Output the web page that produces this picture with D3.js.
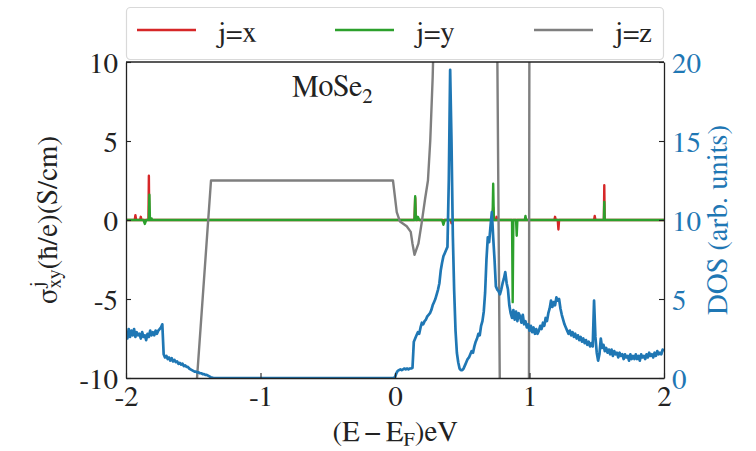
<!DOCTYPE html>
<html>
<head>
<meta charset="utf-8">
<script src="https://cdn.jsdelivr.net/npm/d3@7"></script>
<style>
  html, body { margin: 0; padding: 0; background: #fff; }
  svg { display: block; }
</style>
</head>
<body>
<svg id="chart" width="756" height="451"></svg>
<script>
// Energy axis ticks (eV) and left / right tick values
const energyTicks = [-2, -1, 0, 1, 2];
const sigmaTicks = [-10, -5, 0, 5, 10];
const dosTicks = [0, 5, 10, 15, 20];

// Legend entries
const seriesNames = ["j=x", "j=y", "j=z"];
const seriesColors = ["#d62728", "#2ca02c", "#7f7f7f"];

// sigma^x_xy : energy (eV) / value (S/cm)
const sigmaXEnergy = [-2, -1.935, -1.93, -1.925, -1.895, -1.89, -1.885, -1.833, -1.83, -1.827,
  0.145, 0.15, 0.155, 0.355, 0.36, 0.365, 0.415, 0.42, 0.425, 0.725, 0.73, 0.735, 0.75, 0.755, 0.76,
  1.185, 1.19, 1.195, 1.21, 1.215, 1.22, 1.48, 1.485, 1.49, 1.553, 1.556, 1.559, 2];
const sigmaXValue = [0, 0, 0.3, 0, 0, 0.2, 0, 0, 2.8, 0,
  0, 1.4, 0, 0, -0.2, 0, 0, -0.2, 0, 0, 0.8, 0, 0, 0.2, 0,
  0, 0.2, 0, 0, -0.6, 0, 0, 0.25, 0, 0, 2.2, 0, 0];

// sigma^y_xy
const sigmaYEnergy = [-2, -1.87, -1.86, -1.85, -1.83, -1.826, -1.822, -1.815, -1.81, -1.805,
  0.145, 0.15, 0.155, 0.165, 0.17, 0.18, 0.35, 0.36, 0.37, 0.725, 0.73, 0.735,
  0.87, 0.875, 0.88, 0.9, 0.905, 0.91, 0.965, 0.97, 0.975, 1.553, 1.556, 1.559, 2];
const sigmaYValue = [0, 0, -0.25, 0, 0, 1.6, 0, 0, 0.1, 0,
  0, 1.5, 0, 0, 0.2, 0, 0, -0.3, 0, 0, 2.3, 0,
  0, -5.2, 0, 0, -1.0, 0, 0, 0.25, 0, 0, 1.15, 0, 0];

// sigma^z_xy
const sigmaZEnergy = [-2, -1.555, -1.368, -0.015, 0.013, 0.037, 0.087, 0.117, 0.13, 0.145,
  0.174, 0.198, 0.223, 0.245, 0.262, 0.28, 0.295, 0.31, 0.74, 0.755, 0.785, 0.995, 1.0, 2];
const sigmaZValue = [-20, -20, 2.5, 2.5, 0.5, -0.1, -0.4, -0.75, -1.5, -2.2,
  -1.5, -0.2, 1.3, 2.5, 5.0, 9.0, 14, 20, 20, 17, -17, -17, 17, 17];

// Density of states on a uniform energy grid starting at dosStart with spacing dosStep
const dosStart = -2;
const dosStep = 0.01;
const dosValues = [
  2.9,2.5,3.1,2.6,3.0,2.7,3.1,2.6,2.9,2.7,
  2.8,2.5,2.9,2.6,2.7,2.4,2.8,2.6,3.0,2.7,
  2.9,2.7,3.0,2.8,3.0,3.1,3.2,3.4,1.5,1.3,
  1.4,1.2,1.3,1.1,1.25,1.05,1.15,1.0,1.05,0.9,
  0.95,0.85,0.9,0.75,0.8,0.7,0.7,0.6,0.55,0.5,
  0.45,0.4,0.4,0.35,0.35,0.3,0.3,0.25,0.25,0.2,
  0.2,0.15,0.1,0.05,0.02,0,0,0,0,0,
  0,0,0,0,0,0,0,0,0,0,
  0,0,0,0,0,0,0,0,0,0,
  0,0,0,0,0,0,0,0,0,0,
  0,0,0,0,0,0,0,0,0,0,
  0,0,0,0,0,0,0,0,0,0,
  0,0,0,0,0,0,0,0,0,0,
  0,0,0,0,0,0,0,0,0,0,
  0,0,0,0,0,0,0,0,0,0,
  0,0,0,0,0,0,0,0,0,0,
  0,0,0,0,0,0,0,0,0,0,
  0,0,0,0,0,0,0,0,0,0,
  0,0,0,0,0,0,0,0,0,0,
  0,0,0,0,0,0,0,0,0,0,
  0.05,0.3,0.45,0.5,0.55,0.5,0.55,0.6,0.55,0.6,
  0.55,0.6,0.6,0.65,2.3,2.5,2.7,2.9,2.8,3.2,
  3.5,3.4,3.6,3.7,3.9,4.0,4.1,4.3,4.6,4.8,
  5.0,5.3,5.6,6.0,6.8,7.3,7.7,7.9,8.1,8.3,
  12.5,19.5,15.0,9.0,5.5,3.0,1.6,1.0,0.6,0.5,
  0.5,0.6,0.8,1.0,1.2,1.3,1.5,1.7,1.6,2.0,
  2.3,2.5,2.8,2.7,3.3,3.6,4.2,5.4,7.5,8.9,
  8.6,9.6,10.5,8.9,7.5,5.8,5.6,5.5,5.3,5.6,
  6.0,6.3,6.7,6.0,5.6,4.6,4.1,3.8,4.3,3.7,
  4.2,3.6,4.1,3.9,3.5,4.0,3.4,3.6,3.2,3.4,
  3.0,3.3,2.9,3.2,2.8,3.1,2.8,3.0,3.3,3.1,
  3.5,3.3,3.8,3.6,4.1,4.4,4.9,4.5,4.8,4.6,
  5.1,4.9,5.0,4.4,4.0,3.7,3.4,3.2,3.0,2.8,
  3.0,2.7,2.9,2.6,2.8,2.5,2.7,2.4,2.6,2.3,
  2.5,2.2,2.4,2.1,2.3,2.0,2.2,2.0,4.9,2.6,
  1.6,1.1,1.5,2.5,1.9,2.1,1.7,1.9,1.6,1.8,
  1.5,1.8,1.4,1.7,1.5,1.6,1.3,1.6,1.4,1.5,
  1.2,1.5,1.3,1.4,1.1,1.5,1.2,1.4,1.2,1.5,
  1.2,1.4,1.1,1.5,1.3,1.4,1.2,1.5,1.3,1.6,
  1.4,1.5,1.3,1.6,1.4,1.7,1.5,1.6,1.5,1.8,
  1.7
];

const dosColor = "#1f77b4";
const FONT = 29;

// Pick the first Times-like serif face that is actually installed
function pickSerif() {
  const candidates = ["Liberation Serif", "Tinos", "Times New Roman", "Times", "Nimbus Roman",
    "Nimbus Roman No9 L", "FreeSerif", "Noto Serif", "DejaVu Serif"];
  const ctx = document.createElement("canvas").getContext("2d");
  const sample = "MoSe (E-F)eV 0123456789 jxyz";
  const widthOf = fam => { ctx.font = `40px ${fam}`; return ctx.measureText(sample).width; };
  const bases = ["monospace", "sans-serif", "cursive"].map(widthOf);
  for (const name of candidates) {
    const q = `"${name}"`;
    const ok = ["monospace", "sans-serif", "cursive"].every((b, i) => Math.abs(widthOf(`${q}, ${b}`) - bases[i]) > 0.5);
    if (ok) return q;
  }
  return "serif";
}
const SERIF = pickSerif() + ", serif";

const svg = d3.select("#chart").style("font-family", SERIF);
const plot = { left: 126, right: 664, top: 62, bottom: 378 };

const x = d3.scaleLinear().domain([-2, 2]).range([plot.left, plot.right]);
const y = d3.scaleLinear().domain([-10, 10]).range([plot.bottom, plot.top]);
const yDos = d3.scaleLinear().domain([0, 20]).range([plot.bottom, plot.top]);

svg.append("defs").append("clipPath").attr("id", "plot-clip")
  .append("rect")
  .attr("x", plot.left).attr("y", plot.top)
  .attr("width", plot.right - plot.left).attr("height", plot.bottom - plot.top);

const linesG = svg.append("g").attr("clip-path", "url(#plot-clip)");

const sigmaSeries = [
  { e: sigmaXEnergy, v: sigmaXValue, color: seriesColors[0] },
  { e: sigmaYEnergy, v: sigmaYValue, color: seriesColors[1] },
  { e: sigmaZEnergy, v: sigmaZValue, color: seriesColors[2] }
];

const sigmaLine = d3.line().x(d => x(d[0])).y(d => y(d[1]));
sigmaSeries.forEach(s => {
  const pts = s.e.map((en, i) => [en, s.v[i]]);
  linesG.append("path")
    .datum(pts)
    .attr("d", sigmaLine)
    .attr("fill", "none")
    .attr("stroke", s.color)
    .attr("stroke-width", 2.4)
    .attr("stroke-linejoin", "round");
});

// DOS on the twin axis, drawn above the conductivity curves
const dosPts = dosValues.map((v, i) => [dosStart + i * dosStep, v]);
linesG.append("path")
  .datum(dosPts)
  .attr("d", d3.line().x(d => x(d[0])).y(d => yDos(d[1])))
  .attr("fill", "none")
  .attr("stroke", dosColor)
  .attr("stroke-width", 2.7)
  .attr("stroke-linejoin", "round");

// Axes (ticks pointing inward)
const fmt = d => String(d);
const styleAxis = (g, color) => {
  g.attr("font-family", null).attr("font-size", null);
  g.selectAll("path.domain").attr("stroke", "#222").attr("stroke-width", 1.3);
  g.selectAll(".tick line").attr("stroke", "#222").attr("stroke-width", 1.1);
  g.selectAll(".tick text")
    .attr("fill", color)
    .style("font-size", FONT + "px");
};

const gx = svg.append("g").attr("transform", `translate(0,${plot.bottom})`)
  .call(d3.axisBottom(x).tickValues(energyTicks).tickFormat(fmt).tickSize(-5).tickSizeOuter(0).tickPadding(7));
styleAxis(gx, "#222");

const gy = svg.append("g").attr("transform", `translate(${plot.left},0)`)
  .call(d3.axisLeft(y).tickValues(sigmaTicks).tickFormat(fmt).tickSize(-5).tickSizeOuter(0).tickPadding(8));
styleAxis(gy, "#222");
gy.selectAll(".tick text").attr("dy", "0.36em");

const gr = svg.append("g").attr("transform", `translate(${plot.right},0)`)
  .call(d3.axisRight(yDos).tickValues(dosTicks).tickFormat(fmt).tickSize(-5).tickSizeOuter(0).tickPadding(8));
styleAxis(gr, dosColor);
gr.selectAll(".tick text").attr("dy", "0.36em");

// top spine
svg.append("line")
  .attr("x1", plot.left).attr("x2", plot.right)
  .attr("y1", plot.top).attr("y2", plot.top)
  .attr("stroke", "#222").attr("stroke-width", 1.3);

// x-axis label
const xl = svg.append("text")
  .attr("x", (plot.left + plot.right) / 2).attr("y", 441)
  .attr("text-anchor", "middle")
  .attr("fill", "#222")
  .style("font-size", FONT + "px");
xl.append("tspan").text("(E\u2009\u2212\u2009E");
xl.append("tspan").text("F").style("font-size", "20px").attr("dy", 5);
xl.append("tspan").text(")eV").attr("dy", -5);

// left y-axis label
const yl = svg.append("g").attr("transform", `translate(57,${(plot.top + plot.bottom) / 2}) rotate(-90)`)
  .append("text")
  .attr("text-anchor", "middle")
  .attr("fill", "#222")
  .style("font-size", FONT + "px");
yl.append("tspan").text("\u03c3");
const supJ = yl.append("tspan").text("j").style("font-size", "20px").attr("dy", -14);
const subXY = yl.append("tspan").text("xy").style("font-size", "20px").attr("dy", 18);
subXY.attr("dx", -supJ.node().getComputedTextLength());
yl.append("tspan").text("(\u0127/e)(S/cm)").attr("dy", -4);

// right y-axis label
svg.append("g").attr("transform", `translate(727,${(plot.top + plot.bottom) / 2}) rotate(-90)`)
  .append("text")
  .attr("text-anchor", "middle")
  .attr("fill", dosColor)
  .style("font-size", FONT + "px")
  .text("DOS (arb. units)");

// material annotation
const ann = svg.append("text")
  .attr("x", 292).attr("y", 96)
  .attr("fill", "#222")
  .style("font-size", "30px");
ann.append("tspan").text("MoSe");
ann.append("tspan").text("2").style("font-size", "21px").attr("dy", 7);

// legend
const legend = svg.append("g");
legend.append("rect")
  .attr("x", 126.5).attr("y", 7.5)
  .attr("width", 537).attr("height", 52)
  .attr("rx", 4).attr("ry", 4)
  .attr("fill", "#fff").attr("fill-opacity", 0.85)
  .attr("stroke", "#d9d9d9").attr("stroke-width", 1.2);
const legendLineX = [137, 335, 534];
seriesNames.forEach((name, i) => {
  legend.append("line")
    .attr("x1", legendLineX[i]).attr("x2", legendLineX[i] + 59)
    .attr("y1", 30).attr("y2", 30)
    .attr("stroke", seriesColors[i]).attr("stroke-width", 2.4);
  legend.append("text")
    .attr("x", legendLineX[i] + 79).attr("y", 41.5)
    .attr("fill", "#222")
    .style("font-size", FONT + "px")
    .text(name);
});
</script>
</body>
</html>
